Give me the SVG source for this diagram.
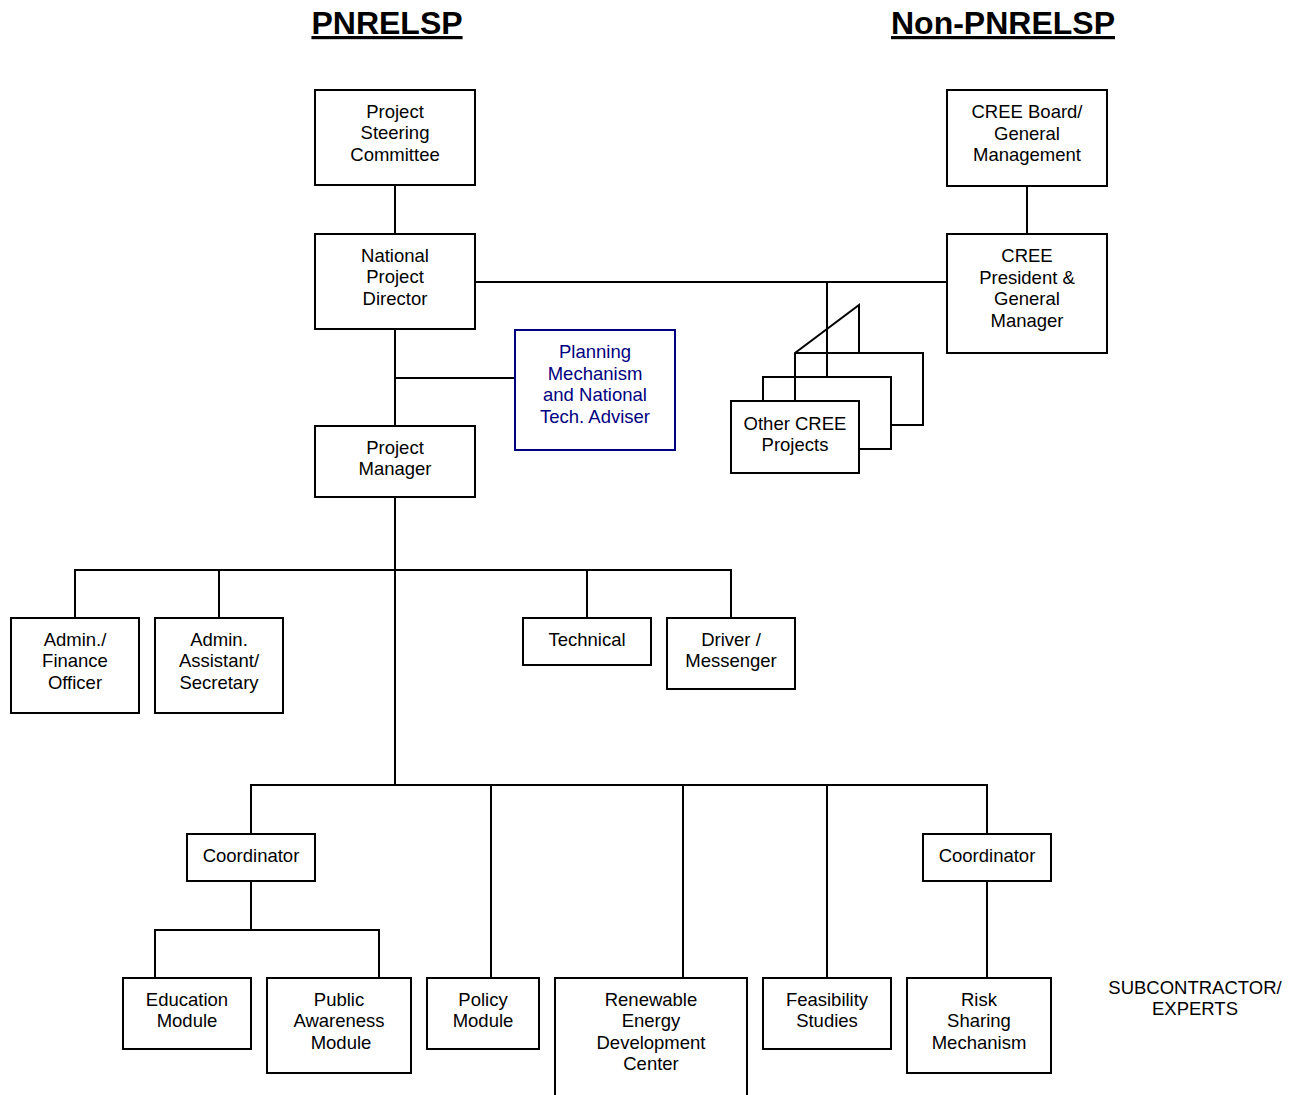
<svg xmlns="http://www.w3.org/2000/svg" width="1295" height="1095" viewBox="0 0 1295 1095">
<style>
.b{fill:#fff;stroke:#000;stroke-width:2}
.p{fill:#fff;stroke:#000080;stroke-width:2}
.t{font-family:"Liberation Sans",Arial,sans-serif;font-size:18.5px;text-anchor:middle;fill:#000}
.tb{fill:#000080}
.h{font-family:"Liberation Sans",Arial,sans-serif;font-size:32px;font-weight:bold;text-anchor:middle;text-decoration:underline;fill:#000}
.c{fill:none;stroke:#000;stroke-width:2}
</style>
<rect width="1295" height="1095" fill="#fff"/>
<text class="h" x="387" y="34">PNRELSP</text>
<text class="h" x="1003" y="34">Non-PNRELSP</text>
<g id="connectors" class="c">
<path d="M395,185V234M1027,186V234M475,282H947M395,329V426M395,378H515M827,282V377M395,497V785"/>
<path d="M75,618V570H731V618M219,570V618M587,570V618"/>
<path d="M251,834V785H987V834M491,785V978M683,785V978M827,785V978"/>
<path d="M251,881V930M155,978V930H379V978M987,881V978"/>
</g>
<g id="n-steering"><rect class="b" x="315" y="90" width="160" height="95"/><text class="t" x="395" y="118">Project</text><text class="t" x="395" y="139">Steering</text><text class="t" x="395" y="161">Committee</text></g>
<g id="n-director"><rect class="b" x="315" y="234" width="160" height="95"/><text class="t" x="395" y="262">National</text><text class="t" x="395" y="283">Project</text><text class="t" x="395" y="305">Director</text></g>
<g id="n-board"><rect class="b" x="947" y="90" width="160" height="96"/><text class="t" x="1027" y="118">CREE Board/</text><text class="t" x="1027" y="140">General</text><text class="t" x="1027" y="161">Management</text></g>
<g id="n-president"><rect class="b" x="947" y="234" width="160" height="119"/><text class="t" x="1027" y="262">CREE</text><text class="t" x="1027" y="284">President &amp;</text><text class="t" x="1027" y="305">General</text><text class="t" x="1027" y="327">Manager</text></g>
<g id="n-planning"><rect class="p" x="515" y="330" width="160" height="120"/><text class="t tb" x="595" y="358">Planning</text><text class="t tb" x="595" y="380">Mechanism</text><text class="t tb" x="595" y="401">and National</text><text class="t tb" x="595" y="423">Tech. Adviser</text></g>
<g id="n-other">
<path class="c" d="M795,401V353L859,305V353M795,353H923V425H891M763,401V377H891V449H859"/>
<rect class="b" x="731" y="401" width="128" height="72"/><text class="t" x="795" y="430">Other CREE</text><text class="t" x="795" y="451">Projects</text></g>
<g id="n-pm"><rect class="b" x="315" y="426" width="160" height="71"/><text class="t" x="395" y="454">Project</text><text class="t" x="395" y="475">Manager</text></g>
<g id="n-finance"><rect class="b" x="11" y="618" width="128" height="95"/><text class="t" x="75" y="646">Admin./</text><text class="t" x="75" y="667">Finance</text><text class="t" x="75" y="689">Officer</text></g>
<g id="n-assistant"><rect class="b" x="155" y="618" width="128" height="95"/><text class="t" x="219" y="646">Admin.</text><text class="t" x="219" y="667">Assistant/</text><text class="t" x="219" y="689">Secretary</text></g>
<g id="n-technical"><rect class="b" x="523" y="618" width="128" height="47"/><text class="t" x="587" y="646">Technical</text></g>
<g id="n-driver"><rect class="b" x="667" y="618" width="128" height="71"/><text class="t" x="731" y="646">Driver /</text><text class="t" x="731" y="667">Messenger</text></g>
<g id="n-coord1"><rect class="b" x="187" y="834" width="128" height="47"/><text class="t" x="251" y="862">Coordinator</text></g>
<g id="n-coord2"><rect class="b" x="923" y="834" width="128" height="47"/><text class="t" x="987" y="862">Coordinator</text></g>
<g id="n-education"><rect class="b" x="123" y="978" width="128" height="71"/><text class="t" x="187" y="1006">Education</text><text class="t" x="187" y="1027">Module</text></g>
<g id="n-public"><rect class="b" x="267" y="978" width="144" height="95"/><text class="t" x="339" y="1006">Public</text><text class="t" x="339" y="1027">Awareness</text><text class="t" x="341" y="1049">Module</text></g>
<g id="n-policy"><rect class="b" x="427" y="978" width="112" height="71"/><text class="t" x="483" y="1006">Policy</text><text class="t" x="483" y="1027">Module</text></g>
<g id="n-redc"><rect class="b" x="555" y="978" width="192" height="130"/><text class="t" x="651" y="1006">Renewable</text><text class="t" x="651" y="1027">Energy</text><text class="t" x="651" y="1049">Development</text><text class="t" x="651" y="1070">Center</text></g>
<g id="n-feasibility"><rect class="b" x="763" y="978" width="128" height="71"/><text class="t" x="827" y="1006">Feasibility</text><text class="t" x="827" y="1027">Studies</text></g>
<g id="n-risk"><rect class="b" x="907" y="978" width="144" height="95"/><text class="t" x="979" y="1006">Risk</text><text class="t" x="979" y="1027">Sharing</text><text class="t" x="979" y="1049">Mechanism</text></g>
<g id="n-sub"><text class="t" x="1195" y="994">SUBCONTRACTOR/</text><text class="t" x="1195" y="1015">EXPERTS</text></g>
</svg>
